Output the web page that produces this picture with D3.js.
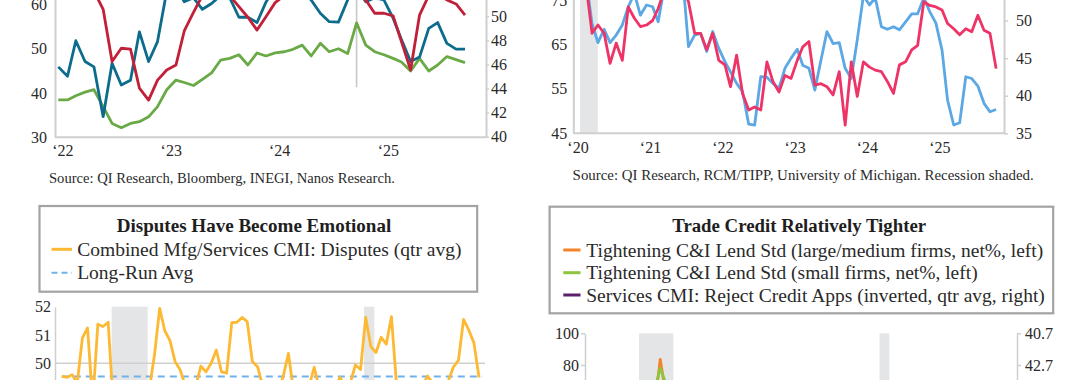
<!DOCTYPE html>
<html><head><meta charset="utf-8">
<script src="https://cdn.jsdelivr.net/npm/d3@7"></script>
<style>
html,body{margin:0;padding:0;background:#fff;}
svg{display:block;}
</style></head><body>
<svg id="chart" width="1080" height="380"></svg>
<script>
// ---------------- DATA ----------------
// Panel A (top-left): monthly Jan 2022 - Oct 2025
const aBlue = [45.9,43.8,51.8,47.1,45.9,34.65,46.7,41.8,42.9,53.8,
  47.1,51.6,63,64,60.6,61.5,58.9,60.2,62,61.5,
  57.1,57.1,55.9,60.5,64,65,64,63,61,58.0,
  56.1,56.0,61,64,60.6,61.5,61,56.9,52.1,47.1,
  48.1,54.6,55.9,51.2,49.9,49.9];
const aRed = [64,65,66,64,63,58.9,47.1,50.1,49.9,41.1,
  38.4,42.9,45.2,46.3,54.0,58.2,62,63,63,62,
  59.5,57.1,54.2,57.2,60.4,62,63,64,64,63,
  64,63,62.5,62,61,58.0,58.0,57.4,51.6,45.2,
  57.6,62,62.5,61,60.1,57.6];
const aGreen = [43.05,43.05,43.4,43.7,43.9,42.5,41.1,40.75,41.1,41.25,
  41.65,42.5,43.9,44.7,44.5,44.25,44.75,45.3,46.35,46.5,
  46.8,45.95,46.95,46.7,46.95,47.05,47.25,47.6,46.7,47.75,
  47.05,47.3,46.9,49.45,47.6,47.05,46.8,46.5,46.2,45.45,
  46.5,45.45,45.95,46.65,46.4,46.15];
const aYears = [2022,2023,2024,2025];
const aYearLabels = ["\u201822","\u201823","\u201824","\u201825"];
const aLeftTicks = [30,40,50,60];
const aRightTicks = [40,42,44,46,48,50];
const aEventMonth = [2024,9];      // Oct 2024 marker
const aEventFloor = 44.1;          // right-axis value where marker ends
const aSource = "Source: QI Research, Bloomberg, INEGI, Nanos Research.";

// Panel B (top-right): monthly Jan 2020 - Nov 2025
const bBlue = [84,85,80,69.7,65.4,68.4,65.4,67.1,69.4,73.5,
  76.5,71.6,73.9,73.5,70.1,78,82,80,81,64.5,
  67.1,67.5,63.4,67.9,64.1,61.1,58.8,56.2,54.3,47.0,
  46.8,57.7,57.6,56.2,55.1,59.6,61.9,63.9,60.3,59.6,
  54.7,61.5,67.9,65.2,65.4,59.6,57.3,66.0,76,73.9,
  75.5,69.0,68.4,69.0,68.3,70.1,71.9,71.9,75.5,72.4,
  69.8,63.7,52.4,46.8,47.3,57.7,57.3,55.6,51.7,49.8,
  50.3];
const bRed = [56,58,55,48.3,49.4,48.3,44.3,47.0,44.7,51.8,
  50.3,49.2,49.4,50.0,51.6,54,55.5,56,54.5,52.5,
  48.3,48.3,46.1,48.3,44.7,44.1,41.2,45.4,40.3,38.1,
  38.5,38.1,44.5,41.9,40.5,42.7,42.3,44.7,46.5,47.2,
  41.4,41.6,41.2,40.1,43.2,36.1,44.5,39.9,44.5,43.8,
  43.4,43.2,41.9,40.3,44.1,44.5,46.1,46.7,52.5,52.0,
  51.8,51.4,49.6,48.9,48.1,48.9,48.5,50.7,48.7,48.3,
  43.6];
const bYears = [2020,2021,2022,2023,2024,2025];
const bYearLabels = ["\u201820","\u201821","\u201822","\u201823","\u201824","\u201825"];
const bLeftTicks = [45,55,65,75];
const bRightTicks = [35,40,45,50];
const bRecession = [[2020,1,1],[2020,3,30]];
const bSource = "Source: QI Research, RCM/TIPP, University of Michigan. Recession shaded.";

// Panel C (bottom-left): quarterly, from 2005 Q2
const cDisputes = [49.55,49.5,49.6,49.3,50.9,51.25,48.6,51.38,51.3,51.45,
  48.5,47.8,46.9,46.2,46.5,47.3,48.2,49.1,50.3,51.94,
  51.15,50.8,50.06,49.76,49.2,48.9,49.2,49.9,49.7,50.0,
  50.47,49.7,49.65,51.44,51.45,51.62,51.47,50.06,49.88,49.2,
  48.9,48.8,49.0,49.55,50.35,49.0,48.9,49.1,49.2,49.86,
  49.1,49.0,48.8,49.1,49.5,49.2,49.3,49.94,49.78,51.62,
  50.59,50.38,50.92,50.68,51.65,49.2,48.8,48.6,48.9,49.0,
  49.2,49.55,49.3,49.1,49.2,49.35,49.86,50.1,51.55,51.18,
  50.73,49.5];
const cFirstQuarter = 2005.33;
const cLongRunAvg = 49.53;
const cTicks = [50,51,52];
const cRecessions = [[2007.75,2009.5],[2020.0,2020.5]];
const cTitle = "Disputes Have Become Emotional";
const cLegend = ["Combined Mfg/Services CMI: Disputes (qtr avg)","Long-Run Avg"];

// Panel D (bottom-right): quarterly survey dates (visible window)
const dDates = [2007.83,2008.08,2008.33,2008.58,2008.83,2009.08,2009.33,2009.58,2009.83];
const dLarge = [19.2,32.1,55.4,57.7,83.6,64.3,39.3,33.9,14.3];
const dSmall = [19.6,30.4,51.8,65.4,78.0,69.6,41.1,35.7,10.7];
const dLeftTicks = [80,100];
const dRightTicks = [40.7,42.7];
const dRecessions = [[2007.75,2009.5],[2020.0,2020.5]];
const dTitle = "Trade Credit Relatively Tighter";
const dLegend = ["Tightening C&I Lend Std (large/medium firms, net%, left)",
  "Tightening C&I Lend Std (small firms, net%, left)",
  "Services CMI: Reject Credit Apps (inverted, qtr avg, right)"];

// ---------------- STYLE ----------------
const FONT = '"Liberation Serif","Times New Roman",serif';
const GRID = "#cfcfcf";
const TXT = "#2a2a2a";
const SHADE = "#e4e5e7";

const svg = d3.select("#chart").attr("font-family", FONT);
svg.append("rect").attr("width",1080).attr("height",380).attr("fill","#fff");

function styleAxis(g, fs) {
  g.attr("font-family", FONT).attr("font-size", fs || 16);
  g.select(".domain").attr("stroke", GRID).attr("stroke-width", 2);
  g.selectAll(".tick line").attr("stroke", GRID).attr("stroke-width", 1.5);
  g.selectAll(".tick text").attr("fill", TXT);
}
function fit(sel, w) {
  const fs = +sel.attr("font-size");
  const l = sel.node().getComputedTextLength();
  const nf = fs * w / l;
  sel.attr("font-size", nf);
  return nf;
}

// ---------------- PANEL A ----------------
(function(){
  const months = d3.timeMonth.range(new Date(2022,0,1), new Date(2025,10,1));
  const x = d3.scaleTime().domain([months[0], months[months.length-1]]).range([58.3, 465]);
  const yL = d3.scaleLinear().domain([30,70]).range([137.3, -39.9]);
  const yR = d3.scaleLinear().domain([40,54]).range([136.7, -32.0]);
  const g = svg.append("g");

  g.append("line").attr("x1",55).attr("x2",486).attr("y1",137.3).attr("y2",137.3)
    .attr("stroke",GRID).attr("stroke-width",2);
  const gl = g.append("g").attr("transform","translate(55,0)")
    .call(d3.axisLeft(yL).tickValues(aLeftTicks).tickFormat(d3.format("d")).tickSize(0).tickSizeOuter(0).tickPadding(8));
  styleAxis(gl);
  const gr = g.append("g").attr("transform","translate(486,0)")
    .call(d3.axisRight(yR).tickValues(aRightTicks).tickFormat(d3.format("d")).tickSize(3).tickSizeOuter(0).tickPadding(2));
  styleAxis(gr);
  const gx = g.append("g").attr("transform","translate(0,137.3)")
    .call(d3.axisBottom(x).tickValues(aYears.map(y=>new Date(y,0,1)))
      .tickFormat((d,i)=>aYearLabels[i]).tickSize(0).tickPadding(7.6));
  styleAxis(gx);
  gx.select(".domain").remove();
  gx.selectAll(".tick text").attr("dx", 4);

  const ev = new Date(aEventMonth[0], aEventMonth[1], 1);
  g.append("line").attr("x1",x(ev)).attr("x2",x(ev)).attr("y1",yL(70)).attr("y2",yR(aEventFloor))
    .attr("stroke","#c8c8c8").attr("stroke-width",1.6);

  const lineL = d3.line().x((d,i)=>x(months[i])).y(d=>yL(d));
  const lineR = d3.line().x((d,i)=>x(months[i])).y(d=>yR(d));
  g.append("path").attr("d", lineR(aGreen)).attr("fill","none").attr("stroke","#6aaa46").attr("stroke-width",2.8).attr("stroke-linejoin","round");
  g.append("path").attr("d", lineL(aBlue)).attr("fill","none").attr("stroke","#0d6b8c").attr("stroke-width",2.8).attr("stroke-linejoin","round");
  g.append("path").attr("d", lineL(aRed)).attr("fill","none").attr("stroke","#c21f39").attr("stroke-width",2.8).attr("stroke-linejoin","round");

  const s = g.append("text").attr("x",49).attr("y",178.3).attr("dominant-baseline","central")
    .attr("font-size",12).attr("fill",TXT).text(aSource);
  fit(s, 346);
})();

// ---------------- PANEL B ----------------
(function(){
  const months = d3.timeMonth.range(new Date(2020,0,1), new Date(2025,11,1));
  const x = d3.scaleTime().domain([months[0], months[months.length-1]]).range([574, 996.1]);
  const yL = d3.scaleLinear().domain([45,85]).range([133, -44.2]);
  const yR = d3.scaleLinear().domain([35,60]).range([133.3, -54.7]);
  const g = svg.append("g");

  const r0 = new Date(...bRecession[0]), r1 = new Date(...bRecession[1]);
  g.append("rect").attr("x",x(r0)).attr("width",x(r1)-x(r0)).attr("y",yL(85)).attr("height",133.3-yL(85))
    .attr("fill",SHADE);

  g.append("line").attr("x1",573.3).attr("x2",1004).attr("y1",133.3).attr("y2",133.3)
    .attr("stroke",GRID).attr("stroke-width",2);
  const gl = g.append("g").attr("transform","translate(573.3,0)")
    .call(d3.axisLeft(yL).tickValues(bLeftTicks).tickFormat(d3.format("d")).tickSize(0).tickSizeOuter(0).tickPadding(6));
  styleAxis(gl);
  const gr = g.append("g").attr("transform","translate(1004,0)")
    .call(d3.axisRight(yR).tickValues(bRightTicks).tickFormat(d3.format("d")).tickSize(4).tickSizeOuter(0).tickPadding(8));
  styleAxis(gr);
  const gx = g.append("g").attr("transform","translate(0,133.3)")
    .call(d3.axisBottom(x).tickValues(bYears.map(y=>new Date(y,0,1)))
      .tickFormat((d,i)=>bYearLabels[i]).tickSize(0).tickPadding(8.6));
  styleAxis(gx);
  gx.select(".domain").remove();
  gx.selectAll(".tick text").attr("dx", 3.5);

  const lineL = d3.line().x((d,i)=>x(months[i])).y(d=>yL(d));
  const lineR = d3.line().x((d,i)=>x(months[i])).y(d=>yR(d));
  g.append("path").attr("d", lineL(bBlue)).attr("fill","none").attr("stroke","#5ba8e4").attr("stroke-width",2.8).attr("stroke-linejoin","round");
  g.append("path").attr("d", lineR(bRed)).attr("fill","none").attr("stroke","#ee3467").attr("stroke-width",2.8).attr("stroke-linejoin","round");

  const s = g.append("text").attr("x",572.6).attr("y",175).attr("dominant-baseline","central")
    .attr("font-size",12).attr("fill",TXT).text(bSource);
  fit(s, 461.5);
})();

// ---------------- PANEL C ----------------
(function(){
  const dates = cDisputes.map((d,i)=>cFirstQuarter + 0.25*i);
  const x = d3.scaleLinear().domain([2005, 2025.87]).range([55, 485]);
  const y = d3.scaleLinear().domain([49,52]).range([391.6, 306.7]);
  const g = svg.append("g");

  g.append("rect").attr("x",39.5).attr("y",206).attr("width",437.7).attr("height",85.7)
    .attr("fill","#fff").attr("stroke","#a3a3a3").attr("stroke-width",2.2);
  const t = g.append("text").attr("x",254).attr("y",225.5).attr("text-anchor","middle")
    .attr("dominant-baseline","central").attr("font-weight","bold").attr("font-size",16)
    .attr("fill","#1e1e1e").text(cTitle);
  fit(t, 274.7);
  g.append("line").attr("x1",51.5).attr("x2",72).attr("y1",249.3).attr("y2",249.3)
    .attr("stroke","#fdb933").attr("stroke-width",3);
  g.append("line").attr("x1",51.5).attr("x2",72).attr("y1",272.7).attr("y2",272.7)
    .attr("stroke","#6fb1e8").attr("stroke-width",2).attr("stroke-dasharray","6,4");
  const l1 = g.append("text").attr("x",77.2).attr("y",249.3).attr("dominant-baseline","central")
    .attr("font-size",16).attr("fill",TXT).text(cLegend[0]);
  const fs = fit(l1, 384.5);
  g.append("text").attr("x",77.2).attr("y",272.7).attr("dominant-baseline","central")
    .attr("font-size",fs).attr("fill",TXT).text(cLegend[1]);

  cRecessions.forEach(r=>{
    g.append("rect").attr("x",x(r[0])).attr("width",x(r[1])-x(r[0])).attr("y",y(52)).attr("height",100)
      .attr("fill",SHADE);
  });
  const gl = g.append("g").attr("transform","translate(55,0)")
    .call(d3.axisLeft(y).tickValues(cTicks).tickFormat(d3.format("d")).tickSize(0).tickSizeOuter(0).tickPadding(4));
  styleAxis(gl, 16);
  gl.select(".domain").attr("stroke-width",1.5);
  g.append("line").attr("x1",x(2005)).attr("x2",485).attr("y1",y(50)).attr("y2",y(50))
    .attr("stroke",GRID).attr("stroke-width",1.6);
  g.append("line").attr("x1",x(dates[0])).attr("x2",x(dates[dates.length-1])+3)
    .attr("y1",y(cLongRunAvg)).attr("y2",y(cLongRunAvg))
    .attr("stroke","#6fb1e8").attr("stroke-width",2).attr("stroke-dasharray","7,5");
  const line = d3.line().x((d,i)=>x(dates[i])).y(d=>y(d));
  g.append("path").attr("d", line(cDisputes)).attr("fill","none").attr("stroke","#fdb933")
    .attr("stroke-width",2.8).attr("stroke-linejoin","round");
})();

// ---------------- PANEL D ----------------
(function(){
  const x = d3.scaleLinear().domain([2005, 2027]).range([585, 1017]);
  const yL = d3.scaleLinear().domain([60,100]).range([396.7, 333.3]);
  const yR = d3.scaleLinear().domain([40.7,44.7]).range([333.3, 396.7]);
  const g = svg.append("g");

  g.append("rect").attr("x",549.6).attr("y",206.7).attr("width",503.6).attr("height",106.6)
    .attr("fill","#fff").attr("stroke","#a3a3a3").attr("stroke-width",2.2);
  const t = g.append("text").attr("x",799.2).attr("y",225).attr("text-anchor","middle")
    .attr("dominant-baseline","central").attr("font-weight","bold").attr("font-size",16)
    .attr("fill","#1e1e1e").text(dTitle);
  fit(t, 254);
  const cols = ["#f5822a","#8cc63f","#5b1f6b"];
  const rows = [250, 272.7, 295];
  let fs = null;
  dLegend.forEach((txt,i)=>{
    g.append("line").attr("x1",563.3).attr("x2",580.5).attr("y1",rows[i]).attr("y2",rows[i])
      .attr("stroke",cols[i]).attr("stroke-width",3);
    const tt = g.append("text").attr("x",586.3).attr("y",rows[i]).attr("dominant-baseline","central")
      .attr("font-size",fs || 16).attr("fill",TXT).text(txt);
    if (i===0) fs = fit(tt, 457);
  });

  dRecessions.forEach(r=>{
    g.append("rect").attr("x",x(r[0])).attr("width",x(r[1])-x(r[0])).attr("y",yL(100)).attr("height",100)
      .attr("fill",SHADE);
  });
  const gl = g.append("g").attr("transform","translate(585,0)")
    .call(d3.axisLeft(yL).tickValues(dLeftTicks).tickFormat(d3.format("d")).tickSize(4).tickSizeOuter(0).tickPadding(2));
  styleAxis(gl, 16);
  gl.select(".domain").attr("stroke-width",1.5);
  const gr = g.append("g").attr("transform","translate(1017,0)")
    .call(d3.axisRight(yR).tickValues(dRightTicks).tickFormat(d3.format(".1f")).tickSize(4).tickSizeOuter(0).tickPadding(4));
  styleAxis(gr, 16);
  gr.select(".domain").attr("stroke-width",1.5);

  const line = d3.line().x((d,i)=>x(dDates[i])).y(d=>yL(d));
  g.append("path").attr("d", line(dLarge)).attr("fill","none").attr("stroke",cols[0])
    .attr("stroke-width",2.8).attr("stroke-linejoin","round");
  g.append("path").attr("d", line(dSmall)).attr("fill","none").attr("stroke",cols[1])
    .attr("stroke-width",2.8).attr("stroke-linejoin","round");
})();
</script>
</body></html>
